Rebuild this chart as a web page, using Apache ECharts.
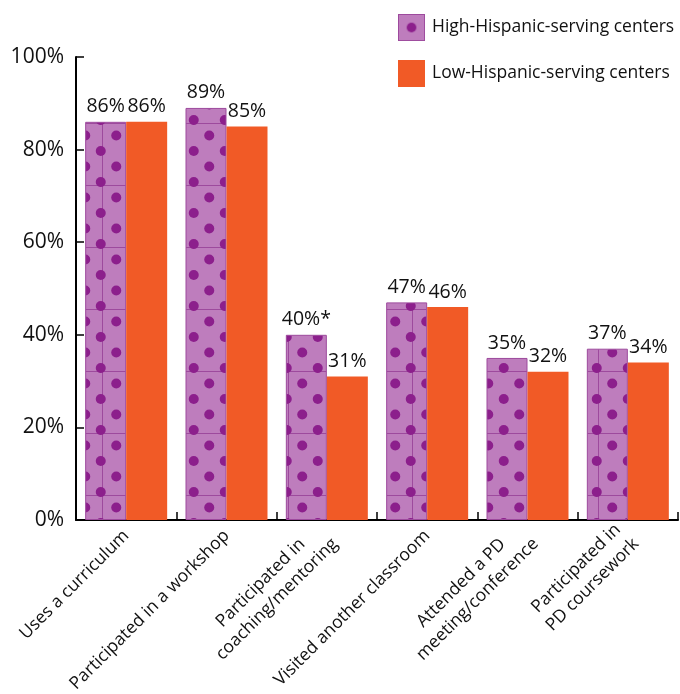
<!DOCTYPE html>
<html>
<head>
<meta charset="utf-8">
<script src="https://cdn.jsdelivr.net/npm/echarts@6/dist/echarts.min.js"></script>
<style>
html,body{margin:0;padding:0;background:#fff;}
#chart{width:680px;height:694px;}
</style>
</head>
<body>
<div id="chart"></div>
<script>
const categories = [
  "Uses a curriculum",
  "Participated in a workshop",
  "Participated in\ncoaching/mentoring",
  "Visited another classroom",
  "Attended a PD\nmeeting/conference",
  "Participated in\nPD coursework"
];
const seriesNames = ["High-Hispanic-serving centers", "Low-Hispanic-serving centers"];
const highValues = [86, 89, 40, 47, 35, 37];
const lowValues = [86, 85, 31, 46, 32, 34];
const highMarks = ["", "", "*", "", "", ""];
const yTicks = [0, 20, 40, 60, 80, 100];

const FONT = "'Open Sans', 'Noto Sans', sans-serif";
const ORANGE = '#F15A26';
const PURPLE_BASE = '#BE7DBD';
const DOT = '#8C1F8C';
const LINE = '#9D4A9D';

function makePattern() {
  const c = document.createElement('canvas');
  c.width = 62; c.height = 62;
  const g = c.getContext('2d');
  g.fillStyle = PURPLE_BASE;
  g.fillRect(0, 0, 62, 62);
  g.strokeStyle = LINE; g.lineWidth = 1;
  g.beginPath(); g.moveTo(0, 61.5); g.lineTo(62, 61.5); g.stroke();
  g.beginPath(); g.moveTo(40.5, 0); g.lineTo(40.5, 62); g.stroke();
  g.fillStyle = DOT;
  const pts = [];
  for (let i = -1; i <= 4; i++) {
    for (let j = -1; j <= 4; j++) {
      pts.push([i * 31 + 7.75, j * 31 + 27]);
      pts.push([i * 31 + 23.25, j * 31 + 11.5]);
    }
  }
  pts.forEach(p => { g.beginPath(); g.arc(p[0], p[1], 5, 0, Math.PI * 2); g.fill(); });
  return c;
}
function makeLegendIcon() {
  const c = document.createElement('canvas');
  c.width = 28; c.height = 28;
  const g = c.getContext('2d');
  g.fillStyle = PURPLE_BASE; g.fillRect(0, 0, 28, 28);
  g.strokeStyle = LINE; g.lineWidth = 1; g.strokeRect(0.5, 0.5, 27, 27);
  g.fillStyle = DOT; g.beginPath(); g.arc(14, 14, 5, 0, Math.PI * 2); g.fill();
  return c.toDataURL();
}

const pattern = makePattern();
const chart = echarts.init(document.getElementById('chart'), null, {renderer: 'canvas'});
chart.setOption({
  animation: false,
  textStyle: {fontFamily: FONT},
  legend: {
    orient: 'vertical',
    left: 393, top: 9,
    itemWidth: 27, itemHeight: 27, itemGap: 19,
    textStyle: {fontSize: 17.5, color: '#111', fontFamily: FONT, padding: [0, 0, 0, 2]},
    data: [
      {name: seriesNames[0], icon: 'image://' + makeLegendIcon()},
      {name: seriesNames[1], icon: 'rect'}
    ]
  },
  grid: {left: 76, right: 2, top: 57, bottom: 174, containLabel: false, outerBoundsMode: 'none'},
  xAxis: {
    type: 'category',
    data: categories,
    axisLine: {lineStyle: {color: '#000', width: 2}},
    axisTick: {show: true, inside: true, length: 8, lineStyle: {color: '#000', width: 1.5}},
    axisLabel: {
      interval: 0, rotate: 45, margin: 13,
      formatter: v => v.split('\n').map(s => '{c|' + s + '}').join('\n'),
      rich: {c: {align: 'center', fontSize: 17.5, fontFamily: FONT, color: '#111', lineHeight: 23}}
    }
  },
  yAxis: {
    type: 'value', min: yTicks[0], max: yTicks[yTicks.length - 1], interval: 20,
    axisLine: {show: true, lineStyle: {color: '#000', width: 2}},
    axisTick: {show: true, inside: true, length: 8, lineStyle: {color: '#000', width: 1.5}},
    splitLine: {show: false},
    axisLabel: {formatter: v => v + '%', fontSize: 21, color: '#111', fontFamily: FONT, margin: 12}
  },
  series: [
    {
      name: seriesNames[0], type: 'bar', barWidth: 41, barGap: '0%',
      data: highValues,
      itemStyle: {color: {image: pattern, repeat: 'repeat'}, borderColor: LINE, borderWidth: 1},
      label: {show: true, position: 'top', distance: 5, fontSize: 19.5, color: '#111', fontFamily: FONT,
        formatter: p => p.value + '%' + highMarks[p.dataIndex]}
    },
    {
      name: seriesNames[1], type: 'bar', barWidth: 41, barGap: '0%',
      data: lowValues,
      itemStyle: {color: ORANGE},
      label: {show: true, position: 'top', distance: 5, fontSize: 19.5, color: '#111', fontFamily: FONT,
        formatter: p => p.value + '%'}
    }
  ]
});
</script>
</body>
</html>
